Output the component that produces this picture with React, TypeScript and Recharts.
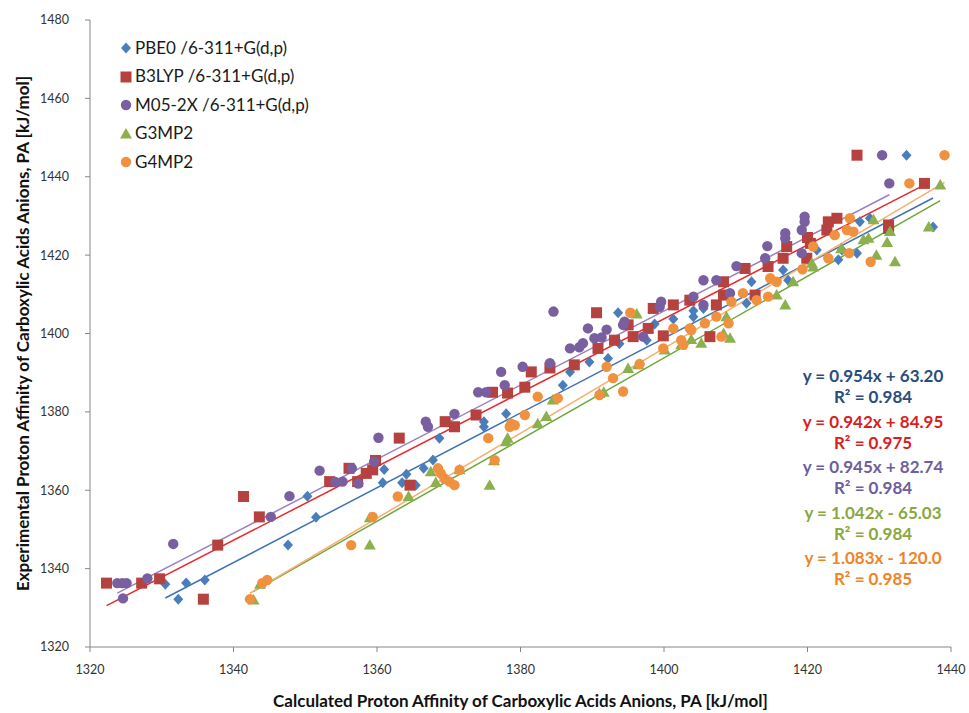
import { ScatterChart, Scatter, XAxis, YAxis, ReferenceLine, Legend } from 'recharts';

const xTicks = [1320, 1340, 1360, 1380, 1400, 1420, 1440];
const yTicks = [1320, 1340, 1360, 1380, 1400, 1420, 1440, 1460, 1480];

// [calculated PA, experimental PA]
const pbe0 = [
  [1330.5, 1336.0], [1332.3, 1332.2], [1333.4, 1336.3], [1336.0, 1337.1], [1347.6, 1346.0],
  [1350.3, 1358.5], [1351.5, 1353.1], [1360.8, 1361.9], [1361.0, 1365.3], [1363.5, 1361.9],
  [1364.1, 1364.1], [1365.4, 1361.3], [1366.5, 1365.6], [1367.8, 1367.7], [1368.7, 1373.3],
  [1374.9, 1377.5], [1374.9, 1376.2], [1378.0, 1379.5], [1385.9, 1386.8], [1386.9, 1390.2],
  [1389.6, 1392.7], [1392.2, 1393.6], [1393.8, 1397.4], [1393.6, 1405.3], [1397.6, 1398.3],
  [1398.7, 1402.4], [1401.3, 1403.7], [1404.1, 1405.8], [1404.1, 1404.3], [1405.5, 1406.4],
  [1411.5, 1407.7], [1412.2, 1413.2], [1416.6, 1416.2], [1417.3, 1413.6], [1421.3, 1421.3],
  [1424.3, 1418.8], [1424.8, 1421.3], [1426.9, 1420.5], [1427.3, 1428.5], [1428.7, 1429.4],
  [1433.8, 1445.5], [1437.5, 1427.2],
];

const b3lyp = [
  [1322.3, 1336.3], [1327.2, 1336.3], [1329.7, 1337.4], [1335.8, 1332.2], [1337.8, 1346.0],
  [1341.4, 1358.4], [1343.6, 1353.2], [1353.4, 1362.2], [1356.1, 1365.6], [1357.3, 1362.2],
  [1358.5, 1364.3], [1359.4, 1365.2], [1359.8, 1367.6], [1363.1, 1373.3], [1364.6, 1361.3],
  [1369.5, 1377.5], [1370.8, 1376.2], [1373.8, 1379.2], [1376.1, 1385.0], [1378.2, 1384.8],
  [1380.6, 1386.3], [1381.5, 1390.2], [1384.1, 1391.2], [1387.5, 1392.0], [1390.6, 1405.3],
  [1390.8, 1396.2], [1393.1, 1398.3], [1395.0, 1402.2], [1395.7, 1399.2], [1397.8, 1401.3],
  [1398.5, 1406.4], [1399.9, 1399.4], [1401.3, 1407.3], [1403.6, 1408.5], [1406.4, 1399.2],
  [1407.3, 1407.3], [1408.3, 1409.8], [1408.3, 1413.2], [1411.3, 1416.6], [1412.7, 1409.8],
  [1414.5, 1417.1], [1416.6, 1419.2], [1417.1, 1422.2], [1419.9, 1419.2], [1420.0, 1424.5],
  [1420.4, 1423.0], [1422.7, 1426.4], [1422.9, 1428.5], [1424.1, 1429.4], [1426.9, 1445.5],
  [1431.3, 1427.7], [1431.3, 1426.8], [1436.3, 1438.3],
];

const m052x = [
  [1323.8, 1336.3], [1324.5, 1336.3], [1325.1, 1336.3], [1324.6, 1332.4], [1328.0, 1337.5],
  [1331.6, 1346.3], [1345.2, 1353.2], [1347.8, 1358.5], [1352.0, 1365.0], [1354.2, 1362.1],
  [1355.2, 1362.2], [1356.5, 1365.6], [1357.4, 1361.7], [1359.6, 1367.3], [1360.2, 1373.4],
  [1366.8, 1377.5], [1367.1, 1376.2], [1370.8, 1379.5], [1374.1, 1385.0], [1375.2, 1385.0],
  [1377.8, 1386.8], [1377.3, 1390.2], [1380.3, 1391.5], [1384.1, 1392.4], [1384.6, 1405.6],
  [1386.9, 1396.2], [1388.2, 1396.5], [1388.7, 1397.5], [1389.4, 1401.3], [1390.3, 1398.8],
  [1391.3, 1399.0], [1392.0, 1401.0], [1394.3, 1402.2], [1394.5, 1403.0], [1397.1, 1399.2],
  [1399.4, 1406.8], [1399.6, 1408.1], [1404.1, 1409.4], [1405.5, 1407.3], [1405.5, 1413.6],
  [1407.3, 1413.6], [1409.2, 1410.3], [1410.1, 1417.2], [1414.1, 1419.2], [1414.4, 1422.3],
  [1416.9, 1425.6], [1416.9, 1424.3], [1419.2, 1426.4], [1419.2, 1420.5], [1419.6, 1429.8],
  [1419.6, 1428.5], [1430.4, 1445.5], [1431.4, 1438.3],
];

const g3mp2 = [
  [1342.8, 1332.0], [1343.7, 1336.0], [1359.0, 1346.0], [1359.0, 1353.0], [1364.4, 1358.4],
  [1367.5, 1364.7], [1368.2, 1362.0], [1371.5, 1365.2], [1375.7, 1361.3], [1376.3, 1367.5],
  [1378.0, 1372.4], [1378.2, 1373.3], [1382.4, 1377.0], [1383.6, 1378.8], [1384.5, 1383.0],
  [1391.0, 1384.7], [1391.6, 1385.0], [1395.0, 1391.1], [1396.2, 1405.0], [1396.4, 1392.0],
  [1400.1, 1395.8], [1402.4, 1397.1], [1403.8, 1398.5], [1405.2, 1397.5], [1408.3, 1400.0],
  [1408.7, 1404.3], [1409.2, 1398.8], [1415.7, 1409.8], [1416.9, 1407.3], [1418.0, 1413.2],
  [1420.6, 1417.9], [1420.8, 1417.0], [1424.7, 1421.6], [1427.8, 1423.9], [1428.5, 1424.3],
  [1429.2, 1429.0], [1429.6, 1420.0], [1431.1, 1423.2], [1431.5, 1426.0], [1432.2, 1418.3],
  [1436.9, 1427.2], [1438.5, 1437.9],
];

const g4mp2 = [
  [1342.3, 1332.2], [1344.0, 1336.3], [1344.7, 1337.1], [1356.4, 1346.0], [1359.4, 1353.2],
  [1362.9, 1358.4], [1368.5, 1365.6], [1368.9, 1364.3], [1369.4, 1363.0], [1370.1, 1362.2],
  [1370.8, 1361.3], [1371.5, 1365.2], [1375.5, 1373.3], [1376.4, 1367.7], [1378.5, 1376.2],
  [1379.2, 1376.6], [1378.7, 1377.0], [1380.6, 1379.2], [1382.4, 1383.9], [1385.2, 1383.5],
  [1391.0, 1384.3], [1392.0, 1391.5], [1392.9, 1388.6], [1394.3, 1385.2], [1395.3, 1405.3],
  [1396.6, 1392.2], [1399.9, 1396.2], [1401.3, 1401.3], [1402.4, 1398.3], [1402.7, 1397.1],
  [1403.6, 1401.3], [1403.8, 1400.9], [1405.7, 1402.6], [1407.3, 1404.3], [1408.0, 1399.2],
  [1409.0, 1402.6], [1409.4, 1408.1], [1411.0, 1410.3], [1412.9, 1408.5], [1414.5, 1409.4],
  [1414.8, 1414.1], [1415.7, 1413.2], [1419.3, 1416.4], [1420.8, 1422.2], [1422.9, 1419.2],
  [1423.8, 1425.1], [1425.5, 1426.4], [1425.8, 1420.5], [1425.9, 1429.4], [1426.4, 1426.0],
  [1428.8, 1418.3], [1434.2, 1438.3], [1439.1, 1445.5],
];

const seriesNames = ['PBE0 /6-311+G(d,p)', 'B3LYP /6-311+G(d,p)', 'M05-2X /6-311+G(d,p)', 'G3MP2', 'G4MP2'];
const seriesPoints = [pbe0, b3lyp, m052x, g3mp2, g4mp2];
const slopes = [0.954, 0.942, 0.945, 1.042, 1.083];
const intercepts = [63.2, 84.95, 82.74, -65.03, -120.0];
const equations = ['y = 0.954x + 63.20', 'y = 0.942x + 84.95', 'y = 0.945x + 82.74', 'y = 1.042x - 65.03', 'y = 1.083x - 120.0'];
const rSquared = ['R² = 0.984', 'R² = 0.975', 'R² = 0.984', 'R² = 0.984', 'R² = 0.985'];

const markerColors = ['#4A7EBB', '#B5423F', '#7A5FA0', '#8DB04E', '#F0913F'];
const lineColors = ['#3F72B2', '#E8282A', '#9A82BE', '#6EA63A', '#F8AE6C'];
const textColors = ['#2A4D7A', '#D91E1E', '#6E5E9E', '#8AA83E', '#EF8427'];
const shapes = ['diamond', 'square', 'circle', 'triangle', 'circle'];

const FONT = 'Lato, "Open Sans", sans-serif';

function Marker({ kind, cx, cy, fill }: { kind: string; cx: number; cy: number; fill: string }) {
  if (kind === 'diamond')
    return <path d={`M${cx},${cy - 5.5}L${cx + 5},${cy}L${cx},${cy + 5.5}L${cx - 5},${cy}Z`} fill={fill} />;
  if (kind === 'square') return <rect x={cx - 5.5} y={cy - 5.5} width={11} height={11} fill={fill} />;
  if (kind === 'triangle')
    return <path d={`M${cx},${cy - 6}L${cx + 6},${cy + 4.5}L${cx - 6},${cy + 4.5}Z`} fill={fill} />;
  return <circle cx={cx} cy={cy} r={5.2} fill={fill} />;
}

function LegendBox() {
  return (
    <div style={{ fontFamily: FONT, fontSize: 17, color: '#1a1a1a' }}>
      {seriesNames.map((name, i) => (
        <div key={name} style={{ display: 'flex', alignItems: 'center', height: 28.5 }}>
          <svg width={14} height={14} style={{ marginRight: 2 }}>
            <Marker kind={shapes[i]} cx={7} cy={8} fill={markerColors[i]} />
          </svg>
          <span>{name}</span>
        </div>
      ))}
    </div>
  );
}

export default function App() {
  const trends = seriesPoints.map((pts, i) => {
    const xs = pts.map((p) => p[0]);
    const x1 = Math.min(...xs);
    const x2 = Math.max(...xs);
    return [
      { x: x1, y: slopes[i] * x1 + intercepts[i] },
      { x: x2, y: slopes[i] * x2 + intercepts[i] },
    ];
  });

  return (
    <div style={{ position: 'absolute', left: 0, top: 0, width: 969, height: 713, background: '#fff' }}>
      <ScatterChart width={969} height={713} margin={{ top: 20, right: 18, bottom: 0, left: 0 }}>
        <XAxis
          type="number"
          dataKey="x"
          domain={[1320, 1440]}
          ticks={xTicks}
          height={66}
          stroke="#868686"
          tickSize={5}
          tickMargin={13}
          tick={{ fill: '#333', fontSize: 12.5, fontFamily: FONT }}
          label={{
            content: ({ viewBox }: any) => (
              <text
                x={viewBox.x + viewBox.width / 2}
                y={707}
                textAnchor="middle"
                fill="#111"
                fontSize={17}
                fontWeight={700}
                fontFamily={FONT}
              >
                Calculated Proton Affinity of Carboxylic Acids Anions, PA [kJ/mol]
              </text>
            ),
          }}
        />
        <YAxis
          type="number"
          dataKey="y"
          domain={[1320, 1480]}
          ticks={yTicks}
          width={90}
          stroke="#868686"
          tickSize={5}
          tickMargin={16}
          tick={{ fill: '#333', fontSize: 12.5, fontFamily: FONT }}
          label={{
            content: ({ viewBox }: any) => (
              <text
                x={22}
                y={viewBox.y + viewBox.height / 2}
                transform={`rotate(-90 22 ${viewBox.y + viewBox.height / 2})`}
                textAnchor="middle"
                dominantBaseline="central"
                fill="#111"
                fontSize={17}
                fontWeight={700}
                fontFamily={FONT}
              >
                Experimental Proton Affinity of Carboxylic Acids Anions, PA [kJ/mol]
              </text>
            ),
          }}
        />
        <Legend
          layout="vertical"
          align="center"
          verticalAlign="middle"
          content={() => <LegendBox />}
          wrapperStyle={{ position: 'absolute', left: 119, top: 33, width: 260 }}
        />
        {seriesPoints.map((pts, i) => (
          <Scatter
            key={seriesNames[i]}
            name={seriesNames[i]}
            data={pts.map((p) => ({ x: p[0], y: p[1] }))}
            fill={markerColors[i]}
            isAnimationActive={false}
            shape={(props: any) => <Marker kind={shapes[i]} cx={props.cx} cy={props.cy} fill={markerColors[i]} />}
          />
        ))}
        {trends.map((seg, i) => (
          <ReferenceLine key={'t' + i} segment={seg} stroke={lineColors[i]} strokeWidth={1.5} />
        ))}
      </ScatterChart>
      {equations.map((eq, i) => (
        <div
          key={eq}
          style={{
            position: 'absolute',
            left: 773,
            width: 200,
            top: 365 + i * 45.5,
            textAlign: 'center',
            fontFamily: FONT,
            fontWeight: 700,
            fontSize: 17,
            lineHeight: '21px',
            color: textColors[i],
          }}
        >
          <div>{eq}</div>
          <div>{rSquared[i]}</div>
        </div>
      ))}
    </div>
  );
}
